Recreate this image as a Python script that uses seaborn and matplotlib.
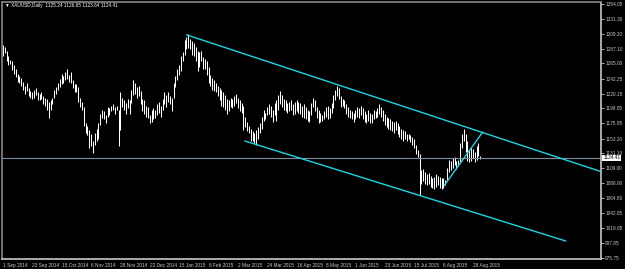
import matplotlib
matplotlib.use("Agg")
import matplotlib.pyplot as plt
import seaborn as sns
import numpy as np
import pandas as pd

# ------------------------------------------------------------
# Data (Sep 2014 - Sep 2015)
# ------------------------------------------------------------
highs = [
    1292, 1290, 1284, 1276, 1270, 1268, 1262, 1256, 1250, 1246,
    1244, 1238, 1232, 1236, 1228, 1224, 1222, 1226, 1228, 1222,
    1220, 1222, 1216, 1214, 1212, 1208, 1210, 1214, 1226, 1230,
    1236, 1242, 1250, 1246, 1252, 1256, 1248, 1252, 1240, 1234,
    1234, 1230, 1214, 1208, 1200, 1176, 1172, 1166, 1160, 1150,
    1162, 1168, 1176, 1190, 1196, 1194, 1188, 1200, 1198, 1202,
    1204, 1200, 1202, 1196, 1222, 1214, 1210, 1206, 1212, 1210,
    1226, 1240, 1236, 1230, 1232, 1224, 1212, 1210, 1202, 1200,
    1188, 1196, 1198, 1196, 1204, 1208, 1202, 1212, 1222, 1218,
    1222, 1216, 1214, 1236, 1246, 1256, 1262, 1276, 1282, 1300,
    1304, 1308, 1302, 1298, 1296, 1290, 1284, 1282, 1284, 1274,
    1272, 1268, 1260, 1248, 1244, 1240, 1236, 1232, 1228, 1226,
    1222, 1218, 1212, 1210, 1214, 1212, 1216, 1220, 1214, 1210,
    1206, 1202, 1186, 1178, 1172, 1168, 1164, 1162, 1166, 1170,
    1176, 1186, 1196, 1192, 1200, 1204, 1202, 1196, 1206, 1210,
    1218, 1224, 1218, 1212, 1210, 1206, 1208, 1210, 1204, 1208,
    1210, 1208, 1206, 1202, 1204, 1200, 1196, 1194, 1206, 1214,
    1210, 1200, 1196, 1192, 1188, 1194, 1200, 1202, 1198, 1206,
    1218, 1226, 1232, 1228, 1216, 1212, 1210, 1204, 1200, 1196,
    1194, 1192, 1196, 1200, 1198, 1202, 1198, 1194, 1190, 1196,
    1192, 1190, 1196, 1194, 1198, 1204, 1200, 1196, 1190, 1186,
    1184, 1182, 1180, 1178, 1180, 1176, 1172, 1168, 1166, 1164,
    1160, 1160, 1158, 1156, 1152, 1144, 1136, 1130, 1106, 1108,
    1104, 1100, 1102, 1098, 1094, 1096, 1100, 1098, 1096, 1094,
    1094, 1092, 1110, 1122, 1120, 1124, 1126, 1120, 1122, 1146,
    1160, 1168, 1160, 1150, 1136, 1140, 1138, 1134, 1142, 1146, 1126.65,
]
lows = [
    1276, 1280, 1268, 1262, 1264, 1255, 1250, 1245, 1238, 1236,
    1232, 1226, 1220, 1224, 1216, 1214, 1212, 1214, 1218, 1210,
    1210, 1212, 1204, 1202, 1196, 1184, 1196, 1204, 1214, 1220,
    1226, 1230, 1234, 1236, 1240, 1242, 1238, 1236, 1228, 1222,
    1222, 1208, 1200, 1196, 1172, 1162, 1158, 1140, 1142, 1132,
    1144, 1150, 1152, 1174, 1184, 1182, 1176, 1186, 1188, 1194,
    1196, 1190, 1196, 1142, 1166, 1200, 1196, 1190, 1198, 1190,
    1206, 1218, 1220, 1214, 1216, 1204, 1194, 1190, 1186, 1184,
    1176, 1178, 1182, 1184, 1188, 1192, 1186, 1196, 1204, 1200,
    1208, 1204, 1194, 1214, 1230, 1240, 1248, 1254, 1268, 1278,
    1286, 1288, 1286, 1278, 1276, 1268, 1254, 1260, 1268, 1256,
    1256, 1248, 1236, 1232, 1226, 1224, 1222, 1216, 1210, 1202,
    1200, 1196, 1190, 1194, 1200, 1198, 1202, 1206, 1198, 1194,
    1192, 1166, 1170, 1164, 1162, 1150, 1150, 1146, 1144, 1152,
    1162, 1168, 1180, 1182, 1188, 1190, 1186, 1178, 1188, 1180,
    1196, 1204, 1200, 1196, 1194, 1192, 1194, 1196, 1188, 1190,
    1194, 1192, 1190, 1186, 1184, 1182, 1180, 1178, 1188, 1200,
    1194, 1184, 1176, 1178, 1180, 1182, 1186, 1182, 1184, 1192,
    1198, 1210, 1216, 1212, 1200, 1202, 1198, 1190, 1186, 1184,
    1182, 1178, 1182, 1186, 1184, 1188, 1182, 1178, 1176, 1180,
    1176, 1176, 1182, 1184, 1186, 1190, 1186, 1180, 1174, 1170,
    1168, 1166, 1164, 1162, 1166, 1160, 1156, 1152, 1150, 1152,
    1150, 1152, 1148, 1144, 1140, 1130, 1126, 1070, 1086, 1090,
    1086, 1084, 1086, 1082, 1080, 1078, 1082, 1084, 1080, 1078,
    1080, 1084, 1090, 1104, 1106, 1110, 1114, 1108, 1112, 1118,
    1140, 1150, 1134, 1120, 1118, 1120, 1124, 1118, 1122, 1128, 1123.64,
]

# trend lines (bar index, price)
upper_x = [100, 326]
upper_y = [1307.5, 1104.0]
lower_x = [131.8, 306.6]
lower_y = [1149.7, 1001.0]
rise_x = [240.2, 261.4]
rise_y = [1082.8, 1163.1]

last_price = 1124.41
title_text = "\u25bc XAUUSD,Daily  1125.24 1126.65 1123.64 1124.41"

date_labels = ["1 Sep 2014", "23 Sep 2014", "15 Oct 2014", "6 Nov 2014",
               "28 Nov 2014", "22 Dec 2014", "15 Jan 2015", "6 Feb 2015",
               "2 Mar 2015", "24 Mar 2015", "16 Apr 2015", "8 May 2015",
               "1 Jun 2015", "23 Jun 2015", "15 Jul 2015", "6 Aug 2015",
               "28 Aug 2015"]
price_ticks = [975.75, 997.85, 1019.95, 1042.05, 1064.80, 1086.90, 1109.00,
               1131.10, 1153.20, 1175.95, 1198.05, 1220.15, 1242.25, 1265.00,
               1287.10, 1309.20, 1331.30, 1354.05]

bars = pd.DataFrame({"high": highs, "low": lows})
bars["idx"] = np.arange(len(bars))

# ------------------------------------------------------------
# Style: MT4 look, black background
# ------------------------------------------------------------
sns.set_theme(style="dark", rc={
    "axes.facecolor": "black",
    "figure.facecolor": "black",
    "axes.edgecolor": "#9a9a9a",
    "xtick.color": "#c8c8c8",
    "ytick.color": "#c8c8c8",
    "text.color": "white",
})
plt.rcParams["font.family"] = ["Liberation Sans", "DejaVu Sans"]
fs = 3.4

fig = plt.figure(figsize=(6.25, 2.69), dpi=100)
ax = fig.add_axes([2 / 625, 10 / 269, 599 / 625, 257 / 269])

# OHLC bars (high-low)
ax.vlines(bars["idx"], bars["low"], bars["high"], color="white", linewidth=0.75)

# current price line
ax.axhline(last_price, color="#7f8c9a", linewidth=0.8)

# channel + trend lines
cyan = "#1cd6e4"
for lx, ly in [(upper_x, upper_y), (lower_x, lower_y), (rise_x, rise_y)]:
    sns.lineplot(x=lx, y=ly, ax=ax, color=cyan, linewidth=1.0)

ax.set_xlim(-0.5, 325.8)
ax.set_ylim(974.26, 1356.3)

# axes / ticks
ax.yaxis.tick_right()
ax.set_yticks(price_ticks)
ax.set_yticklabels([f"{v:.2f}" for v in price_ticks], fontsize=fs)
ax.set_xticks(np.arange(len(date_labels)) * 16)
ax.set_xticklabels(date_labels, fontsize=fs, ha="left")
ax.tick_params(axis="both", length=2, width=0.6, pad=1, colors="#c8c8c8")
ax.grid(False)
for side in ["left", "top"]:
    ax.spines[side].set_color("#808080")
for side in ["right", "bottom"]:
    ax.spines[side].set_color("#c0c0c0")

# price tag on the axis
ax.annotate(f"{last_price:.2f}", xy=(1.004, last_price),
            xycoords=("axes fraction", "data"), fontsize=fs, color="black",
            va="center", ha="left",
            bbox=dict(boxstyle="square,pad=0.2", facecolor="white", edgecolor="none"))

# header
fig.text(5 / 625, 1 - 6 / 269, title_text, fontsize=fs, color="white", va="center")

fig.savefig("out.png", dpi=100, facecolor="black")
